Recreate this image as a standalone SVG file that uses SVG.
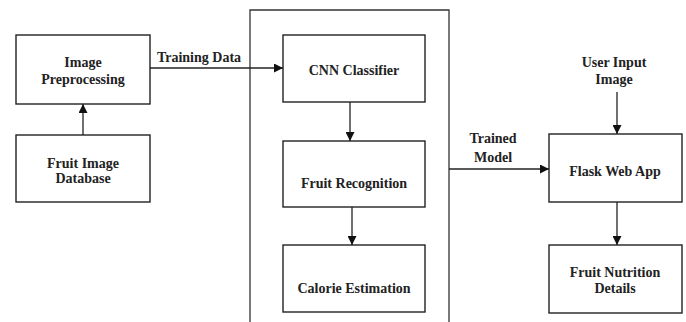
<svg xmlns="http://www.w3.org/2000/svg" width="686" height="322" viewBox="0 0 686 322">
<defs>
<marker id="ah" viewBox="0 0 10 10" refX="10" refY="5" markerWidth="9" markerHeight="9" markerUnits="userSpaceOnUse" orient="auto">
<path d="M0,0 L10,5 L0,10 Z" fill="#111"/>
</marker>
</defs>
<style>
.box{fill:#fff;stroke:#222;stroke-width:1.4}
.cont{fill:none;stroke:#333;stroke-width:1.3}
.t{font-family:"Liberation Serif","Times New Roman",serif;font-size:14px;font-weight:bold;fill:#222;text-anchor:middle}
.c{stroke:#222;stroke-width:1.3;fill:none;marker-end:url(#ah)}
</style>
<rect width="686" height="322" fill="#fff"/>
<g id="container"><path class="cont" d="M250,330 V10 H449 V330"/></g>
<g id="image-preprocessing"><rect class="box" x="16" y="35" width="134" height="69"/><text class="t" x="83" y="67">Image</text><text class="t" x="83" y="84">Preprocessing</text></g>
<g id="fruit-image-database"><rect class="box" x="16" y="135" width="134" height="67"/><text class="t" x="83" y="168">Fruit Image</text><text class="t" x="83" y="183">Database</text></g>
<g id="cnn-classifier"><rect class="box" x="283" y="35" width="142" height="67"/><text class="t" x="354" y="75">CNN Classifier</text></g>
<g id="fruit-recognition"><rect class="box" x="283" y="141" width="142" height="66"/><text class="t" x="354" y="188">Fruit Recognition</text></g>
<g id="calorie-estimation"><rect class="box" x="283" y="245" width="142" height="67"/><text class="t" x="354" y="293">Calorie Estimation</text></g>
<g id="user-input-image"><text class="t" x="614" y="67">User Input</text><text class="t" x="614" y="84">Image</text></g>
<g id="flask-web-app"><rect class="box" x="549" y="134" width="133" height="68"/><text class="t" x="615" y="176">Flask Web App</text></g>
<g id="fruit-nutrition-details"><rect class="box" x="549" y="245" width="133" height="68"/><text class="t" x="615" y="277">Fruit Nutrition</text><text class="t" x="615" y="293">Details</text></g>
<g id="connectors">
<path class="c" d="M83,135 V104"/>
<path class="c" d="M150,68 H283"/>
<text class="t" x="199" y="62">Training Data</text>
<path class="c" d="M350,102 V141"/>
<path class="c" d="M352,207 V245"/>
<path class="c" d="M449,169 H549"/>
<text class="t" x="493" y="143">Trained</text>
<text class="t" x="493" y="162">Model</text>
<path class="c" d="M617,92 V134"/>
<path class="c" d="M617,202 V245"/>
</g>
</svg>
